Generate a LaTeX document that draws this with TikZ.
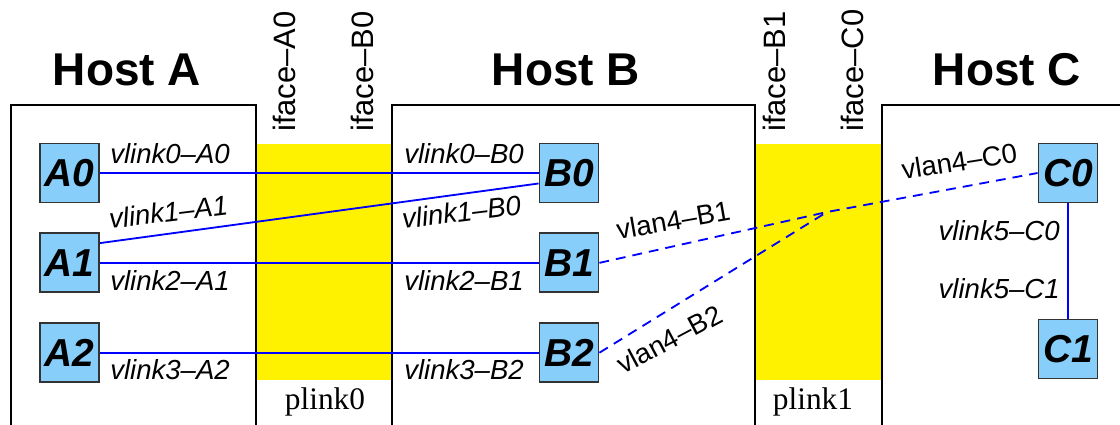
\documentclass[tikz,border=0pt]{standalone}
\usepackage{fontspec}
\setmainfont{Liberation Sans}
\newfontfamily\plinkfont{Liberation Serif}
\usetikzlibrary{positioning}
\definecolor{vifblue}{RGB}{135,206,250}

\begin{document}
\begin{tikzpicture}[
    x=0.025cm, y=-0.025cm,
    node distance=0.725cm,
    host/.style={draw, line width=1.4pt},
    hostname/.style={anchor=base, font=\fontsize{32.7}{36}\selectfont\bfseries},
    vif/.style={rectangle, draw=black!80, line width=1.3pt, fill=vifblue,
                minimum size=1.475cm, inner sep=0pt,
                font=\fontsize{27.7}{30}\selectfont\bfseries\itshape},
    iface/.style={rotate=90, anchor=base west, inner sep=0pt,
                  font=\fontsize{22}{24}\selectfont},
    plink/.style={anchor=base, inner sep=0pt, font=\plinkfont\fontsize{22.3}{24}\selectfont},
    lbl/.style={anchor=base west, inner sep=0pt, font=\fontsize{19.6}{22}\selectfont\itshape},
    vlan/.style={anchor=base west, inner sep=0pt, font=\fontsize{19.6}{22}\selectfont},
    wire/.style={blue, line width=1.3pt},
    vlanwire/.style={wire, dash pattern=on 7pt off 5pt}
  ]
    \clip (0,0) rectangle (1120,424);

    % physical links between the hosts
    \fill[yellow] (256,144) rectangle (392,380);
    \fill[yellow] (755,144) rectangle (882,380);
    \node[plink] (plink0) at (325,409) {plink0};
    \node[plink] (plink1) at (813,409) {plink1};

    % hosts
    \draw[host] (11,105) rectangle (256,440);
    \draw[host] (392,105) rectangle (755,440);
    \draw[host] (882,105) rectangle (1140,440);
    \node[hostname] (hostA) at (127,85) {Host A};
    \node[hostname] (hostB) at (566,85) {Host B};
    \node[hostname] (hostC) at (1007,85) {Host C};

    \node[iface] (ifA0) at (295,132) {iface\textendash A0};
    \node[iface] (ifB0) at (373,132) {iface\textendash B0};
    \node[iface] (ifB1) at (785,132) {iface\textendash B1};
    \node[iface] (ifC0) at (863,132) {iface\textendash C0};

    % virtual interfaces
    \node[vif] (A0) at (69.5,173) {A0};
    \node[vif, below=of A0] (A1) {A1};
    \node[vif, below=of A1] (A2) {A2};
    \node[vif] (B0) at (569,173) {B0};
    \node[vif, below=of B0] (B1) {B1};
    \node[vif, below=of B1] (B2) {B2};
    \node[vif] (C0) at (1068,173) {C0};
    \node[vif] (C1) at (1068,349) {C1};

    % virtual links
    \draw[wire] (A0) -- (B0);
    \draw[wire] (A1.33) -- (B0.199);
    \draw[wire] (A1) -- (B1);
    \draw[wire] (A2) -- (B2);
    \draw[wire] (C0) -- (C1);

    \coordinate (vlan4) at (827,212);
    \draw[vlanwire] (B1.east) -- (vlan4) -- (C0.west);
    \draw[vlanwire] (B2.east) -- (vlan4);

    % link end names
    \node[lbl] (l0A0) at (110,163) {vlink0\textendash A0};
    \node[lbl, rotate=7] (l1A1) at (110,229) {vlink1\textendash A1};
    \node[lbl] (l2A1) at (110,290) {vlink2\textendash A1};
    \node[lbl] (l3A2) at (110,379) {vlink3\textendash A2};
    \node[lbl] (l0B0) at (404,163) {vlink0\textendash B0};
    \node[lbl, rotate=7] (l1B0) at (403,229) {vlink1\textendash B0};
    \node[lbl] (l2B1) at (404,290) {vlink2\textendash B1};
    \node[lbl] (l3B2) at (404,379) {vlink3\textendash B2};
    \node[lbl, anchor=base east] (l5C0) at (1060,240) {vlink5\textendash C0};
    \node[lbl, anchor=base east] (l5C1) at (1060,298) {vlink5\textendash C1};
    \node[vlan, rotate=10] (v4B1) at (618,240) {vlan4\textendash B1};
    \node[vlan, rotate=28] (v4B2) at (623,375) {vlan4\textendash B2};
    \node[vlan, rotate=9] (v4C0) at (903,180) {vlan4\textendash C0};
\end{tikzpicture}
\end{document}
